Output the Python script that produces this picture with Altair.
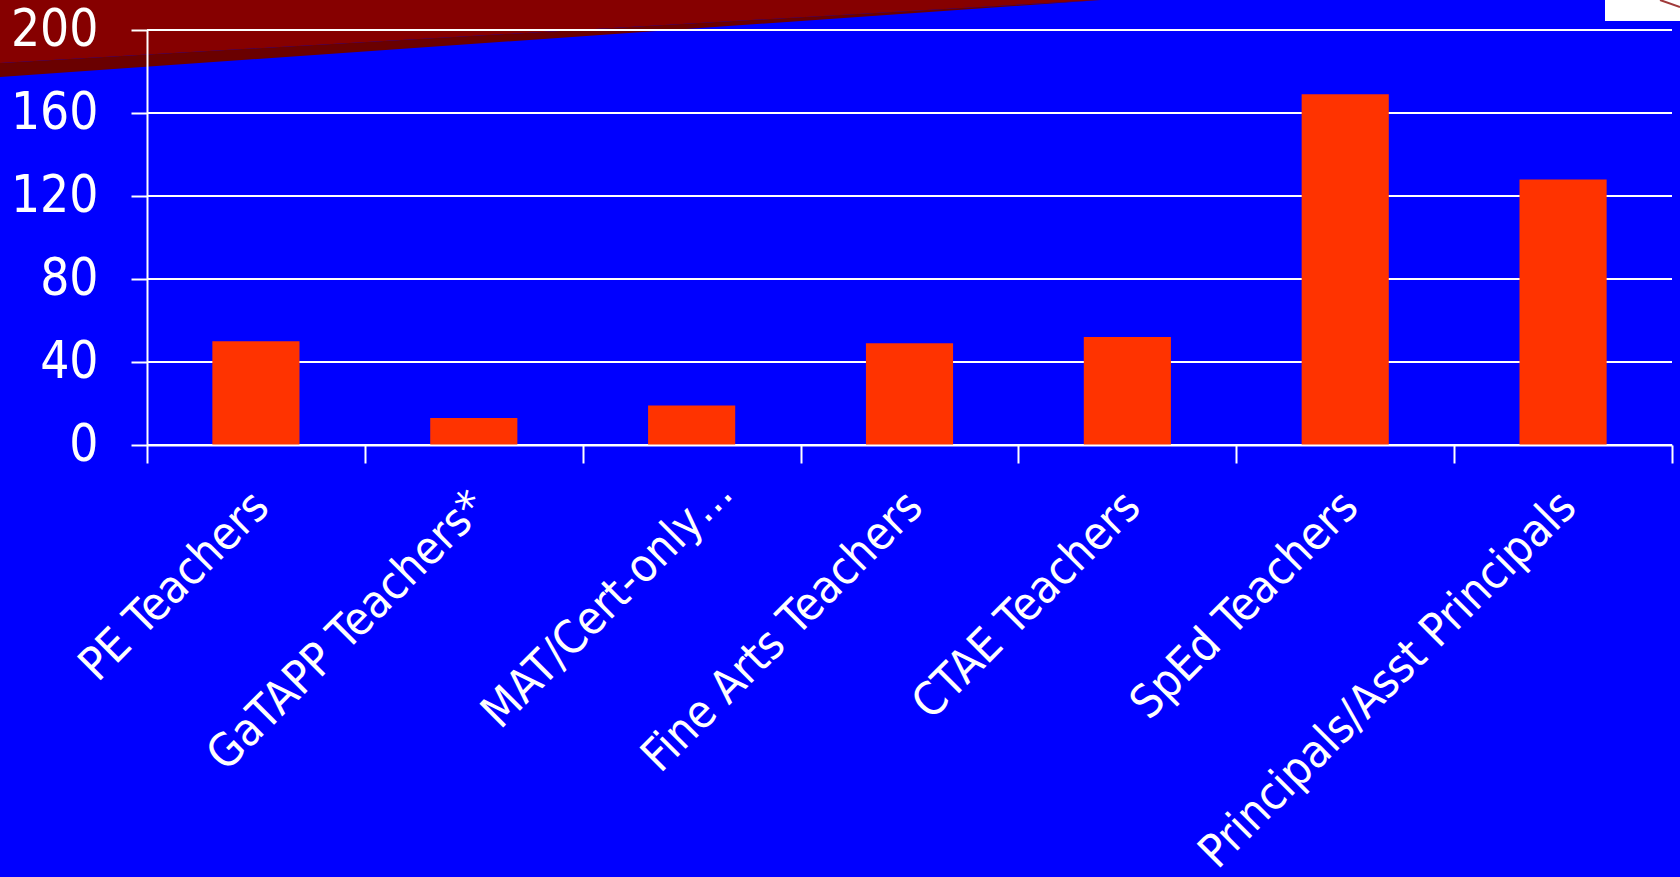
import altair as alt
import pandas as pd

# Survey counts by staff group
categories = [
    "PE Teachers",
    "GaTAPP Teachers*",
    "MAT/Cert-only…",
    "Fine Arts Teachers",
    "CTAE Teachers",
    "SpEd Teachers",
    "Principals/Asst Principals",
]
counts = [50, 13, 19, 49, 52, 169, 128]
y_ticks = [0, 40, 80, 120, 160, 200]

PLOT_W = 1525
PLOT_H = 415
FONT = "DejaVu Sans Condensed, Liberation Sans, sans-serif"
WHITE = "#ffffff"

bars_df = pd.DataFrame({"group": categories, "count": counts})
ticks_df = pd.DataFrame({"tick": y_ticks})
one_row = pd.DataFrame({"k": [0]})

# Slide decoration: dark-red wedge across the top-left corner, drawn as a
# custom symbol path inside a 1110px square box.
WEDGE_SIDE = 1110
wedge_main = "M -1 -1 L 0.98378 -1 L -1 -0.88649 Z"
wedge_shadow = "M -1 -0.88649 L 0.98378 -1 L -1 -0.86126 Z"


def wedge(path, color):
    return (
        alt.Chart(one_row)
        .mark_point(
            shape=path,
            size=WEDGE_SIDE * WEDGE_SIDE,
            filled=True,
            fill=color,
            opacity=1,
            strokeWidth=0,
        )
        .encode(x=alt.value(WEDGE_SIDE / 2 - 147), y=alt.value(WEDGE_SIDE / 2 - 30))
    )


corner_box = (
    alt.Chart(one_row)
    .mark_rect(color=WHITE)
    .encode(
        x=alt.value(1458),
        x2=alt.value(1533),
        y=alt.value(-30),
        y2=alt.value(-9),
    )
)
corner_stroke = (
    alt.Chart(one_row)
    .mark_rule(color="#a03a3a", strokeWidth=2)
    .encode(
        x=alt.value(1513),
        x2=alt.value(1533),
        y=alt.value(-30),
        y2=alt.value(-23),
    )
)

y_scale = alt.Scale(domain=[0, 200], nice=False, zero=True)

gridlines = (
    alt.Chart(ticks_df)
    .mark_rule(color=WHITE, strokeWidth=2)
    .encode(
        y=alt.Y("tick:Q", scale=y_scale),
        x=alt.value(0),
        x2=alt.value(PLOT_W),
    )
)

# the truncated label sits a little further right and higher than the rest
short_label = "datum.value === 'MAT/Cert-only…'"
label_offset = {"condition": {"test": short_label, "value": 33}, "value": 5}
label_padding = {"condition": {"test": short_label, "value": 22}, "value": 36}

bars = (
    alt.Chart(bars_df)
    .mark_bar(color="#ff3300", width=alt.RelativeBandSize(0.4))
    .encode(
        x=alt.X(
            "group:N",
            sort=categories,
            scale=alt.Scale(paddingInner=0, paddingOuter=0),
            axis=alt.Axis(
                title=None,
                labelAngle=315,
                labelAlign="right",
                labelBaseline="middle",
                labelOffset=label_offset,
                labelPadding=label_padding,
                labelFont=FONT,
                labelFontSize=46,
                labelColor=WHITE,
                labelLimit=0,
                labelOverlap=False,
                tickBand="extent",
                tickSize=18,
                tickWidth=2,
                tickColor=WHITE,
                domainColor=WHITE,
                domainWidth=2,
                grid=False,
                zindex=1,
            ),
        ),
        y=alt.Y(
            "count:Q",
            scale=y_scale,
            axis=alt.Axis(
                title=None,
                values=y_ticks,
                grid=False,
                tickSize=16,
                tickWidth=2,
                tickColor=WHITE,
                domainColor=WHITE,
                domainWidth=2,
                labelFont=FONT,
                labelFontSize=51,
                labelColor=WHITE,
                labelPadding=33,
                zindex=1,
            ),
        ),
    )
)

chart = (
    alt.layer(
        wedge(wedge_main, "#860000"),
        wedge(wedge_shadow, "#6a0000"),
        corner_box,
        corner_stroke,
        gridlines,
        bars,
    )
    .properties(
        width=PLOT_W,
        height=PLOT_H,
        background="#0000ff",
        padding={"left": 147, "top": 30, "right": 8, "bottom": 432},
        autosize=alt.AutoSizeParams(type="none"),
    )
    .configure_view(strokeWidth=0)
)

chart.save("out.html", embed_options={"renderer": "svg", "actions": False})
